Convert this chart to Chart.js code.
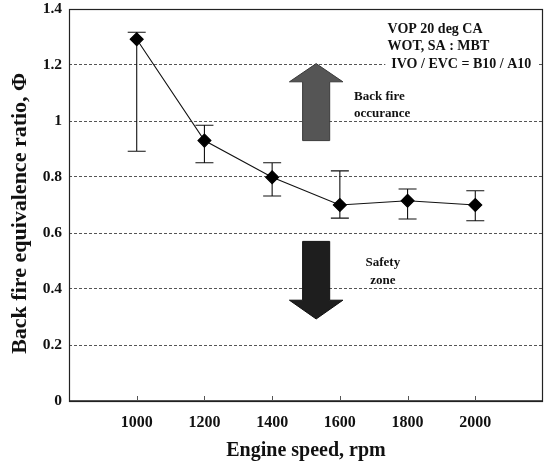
<!DOCTYPE html>
<html>
<head>
<meta charset="utf-8">
<script src="https://cdn.jsdelivr.net/npm/chart.js@4.4.0/dist/chart.umd.min.js"></script>
<style>
  html, body { margin: 0; padding: 0; background: #fff; }
  #wrap { width: 545px; height: 465px; }
</style>
</head>
<body>
<div id="wrap"><canvas id="chart"></canvas></div>
<script>
// data
const speeds = [1000, 1200, 1400, 1600, 1800, 2000];
const phi = [1.292, 0.930, 0.799, 0.700, 0.715, 0.700];
const phiHigh = [1.317, 0.985, 0.851, 0.822, 0.757, 0.751];
const phiLow = [0.892, 0.851, 0.732, 0.653, 0.650, 0.644];
const xTicks = [1000, 1200, 1400, 1600, 1800, 2000];
const yTicks = [0, 0.2, 0.4, 0.6, 0.8, 1, 1.2, 1.4];

const SERIF = '"Liberation Serif", "Times New Roman", serif';

// annotations, in data units
const arrows = [
  { x: 1530, shaft: 40, head: 79, tail: 0.93, base: 1.14, tip: 1.205, fill: '#555555', stroke: '#3a3a3a' },
  { x: 1530, shaft: 40, head: 79, tail: 0.57, base: 0.36, tip: 0.293, fill: '#1e1e1e', stroke: '#111111' }
];
const notes = [
  { text: 'VOP 20 deg CA', x: 1741, y: 1.327, size: 14, align: 'left' },
  { text: 'WOT, SA : MBT', x: 1741, y: 1.265, size: 14, align: 'left' },
  { text: 'IVO / EVC = B10 / A10', x: 1752, y: 1.2025, size: 14, align: 'left', bg: true },
  { text: 'Back fire', x: 1642, y: 1.087, size: 13, align: 'left' },
  { text: 'occurance', x: 1642, y: 1.0275, size: 13, align: 'left' },
  { text: 'Safety', x: 1727, y: 0.494, size: 13, align: 'center' },
  { text: 'zone', x: 1727, y: 0.429, size: 13, align: 'center' }
];

function drawArrow(ctx, x, y, a) {
  const cx = x.getPixelForValue(a.x);
  const sl = x.getPixelForValue(a.x - a.shaft);
  const sr = x.getPixelForValue(a.x + a.shaft);
  const hl = x.getPixelForValue(a.x - a.head);
  const hr = x.getPixelForValue(a.x + a.head);
  const tail = y.getPixelForValue(a.tail);
  const base = y.getPixelForValue(a.base);
  const tip = y.getPixelForValue(a.tip);
  ctx.beginPath();
  ctx.moveTo(sl, tail);
  ctx.lineTo(sl, base);
  ctx.lineTo(hl, base);
  ctx.lineTo(cx, tip);
  ctx.lineTo(hr, base);
  ctx.lineTo(sr, base);
  ctx.lineTo(sr, tail);
  ctx.closePath();
  ctx.fillStyle = a.fill;
  ctx.fill();
  ctx.strokeStyle = a.stroke;
  ctx.lineWidth = 1;
  ctx.stroke();
}

const decor = {
  id: 'decor',
  beforeDatasetsDraw(chart) {
    const { ctx, scales: { x, y } } = chart;
    ctx.save();

    arrows.forEach(a => drawArrow(ctx, x, y, a));

    ctx.textBaseline = 'middle';
    notes.forEach(n => {
      ctx.font = 'bold ' + n.size + 'px ' + SERIF;
      ctx.textAlign = n.align;
      const px = x.getPixelForValue(n.x);
      const py = y.getPixelForValue(n.y);
      if (n.bg) {
        const w = ctx.measureText(n.text).width;
        const left = n.align === 'center' ? px - w / 2 : px;
        ctx.fillStyle = '#fff';
        ctx.fillRect(left - 6, py - n.size / 2 - 2, w + 12, n.size + 4);
      }
      ctx.fillStyle = '#111';
      ctx.fillText(n.text, px, py);
    });

    // error bars
    ctx.strokeStyle = '#111';
    ctx.lineWidth = 1.1;
    speeds.forEach((s, i) => {
      const px = x.getPixelForValue(s);
      const top = y.getPixelForValue(phiHigh[i]);
      const bot = y.getPixelForValue(phiLow[i]);
      ctx.beginPath();
      ctx.moveTo(px, top); ctx.lineTo(px, bot);
      ctx.moveTo(px - 9, top); ctx.lineTo(px + 9, top);
      ctx.moveTo(px - 9, bot); ctx.lineTo(px + 9, bot);
      ctx.stroke();
    });
    ctx.restore();
  },
  afterDraw(chart) {
    const { ctx, chartArea: a, scales: { x } } = chart;
    ctx.save();
    ctx.strokeStyle = '#222';
    ctx.lineWidth = 1.2;
    ctx.strokeRect(a.left + 0.5, a.top + 0.5, a.right - a.left - 1, a.bottom - a.top);
    ctx.lineWidth = 1.6;
    ctx.beginPath();
    ctx.moveTo(a.left, a.bottom);
    ctx.lineTo(a.right, a.bottom);
    ctx.stroke();
    // short inner tick marks on the x axis
    ctx.lineWidth = 1;
    ctx.strokeStyle = '#555';
    xTicks.forEach(t => {
      const px = Math.round(x.getPixelForValue(t)) + 0.5;
      ctx.beginPath();
      ctx.moveTo(px, a.bottom);
      ctx.lineTo(px, a.bottom - 5);
      ctx.stroke();
    });
    ctx.restore();
  }
};

new Chart(document.getElementById('chart'), {
  type: 'line',
  data: {
    datasets: [{
      data: speeds.map((s, i) => ({ x: s, y: phi[i] })),
      borderColor: '#111',
      borderWidth: 1.1,
      backgroundColor: '#000',
      pointStyle: 'rectRot',
      pointRadius: 6.5,
      pointBorderColor: '#000',
      pointBackgroundColor: '#000',
      tension: 0,
      clip: false
    }]
  },
  options: {
    responsive: true,
    maintainAspectRatio: false,
    animation: false,
    layout: { autoPadding: false, padding: { top: 9, right: 2, left: 0, bottom: 0 } },
    plugins: {
      legend: { display: false },
      tooltip: { enabled: false }
    },
    scales: {
      x: {
        type: 'linear',
        min: 800,
        max: 2200,
        afterBuildTicks: scale => { scale.ticks = xTicks.map(v => ({ value: v })); },
        afterFit: scale => {
          scale.height = 64;
          scale.paddingLeft = 0;
          scale.paddingRight = 0;
        },
        grid: { display: false, drawTicks: false },
        border: { display: false },
        ticks: {
          color: '#111',
          padding: 12,
          maxRotation: 0,
          font: { family: SERIF, size: 16, weight: 'bold' },
          callback: v => String(v)
        },
        title: {
          display: true,
          text: 'Engine speed, rpm',
          color: '#111',
          padding: { top: 0, bottom: 2 },
          font: { family: SERIF, size: 20, weight: 'bold' }
        }
      },
      y: {
        min: 0,
        max: 1.4,
        afterBuildTicks: scale => { scale.ticks = yTicks.map(v => ({ value: v })); },
        afterFit: scale => {
          scale.width = 69;
          scale.paddingTop = 0;
          scale.paddingBottom = 0;
        },
        grid: {
          drawTicks: false,
          lineWidth: 1,
          color: c => (c.tick && c.tick.value > 0 && c.tick.value < 1.4) ? '#555' : 'rgba(0,0,0,0)'
        },
        border: { display: false, dash: [3, 2] },
        ticks: {
          color: '#111',
          padding: 7,
          font: { family: SERIF, size: 15.5, weight: 'bold' },
          callback: v => String(v)
        },
        title: {
          display: true,
          text: 'Back fire equivalence ratio, Φ\u00a0\u00a0\u00a0',
          color: '#111',
          padding: { top: 7, bottom: 0 },
          font: { family: SERIF, size: 22, weight: 'bold' }
        }
      }
    }
  },
  plugins: [decor]
});
</script>
</body>
</html>
